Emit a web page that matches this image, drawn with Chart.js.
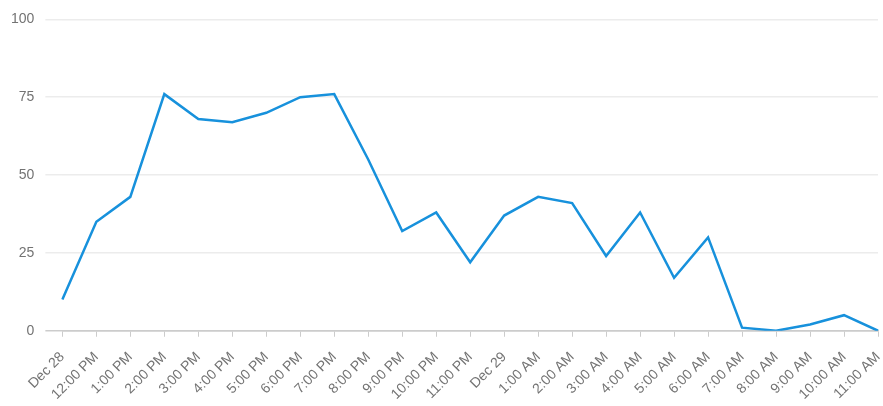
<!DOCTYPE html>
<html>
<head>
<meta charset="utf-8">
<script src="https://cdn.jsdelivr.net/npm/chart.js@4/dist/chart.umd.min.js"></script>
<style>
html,body{margin:0;padding:0;background:#fff;}
#wrap{width:883px;height:406px;position:relative;}
</style>
</head>
<body>
<div id="wrap"><canvas id="c"></canvas></div>
<script>
const categories = ["Dec 28","12:00 PM","1:00 PM","2:00 PM","3:00 PM","4:00 PM","5:00 PM","6:00 PM","7:00 PM","8:00 PM","9:00 PM","10:00 PM","11:00 PM","Dec 29","1:00 AM","2:00 AM","3:00 AM","4:00 AM","5:00 AM","6:00 AM","7:00 AM","8:00 AM","9:00 AM","10:00 AM","11:00 AM"];
const values = [10,35,43,76,68,67,70,75,76,55,32,38,22,37,43,41,24,38,17,30,1,0,2,5,0];
const yTicks = [0,25,50,75,100];

new Chart(document.getElementById('c'), {
  type: 'line',
  data: {
    labels: categories,
    datasets: [{
      data: values,
      borderColor: '#1791dc',
      borderWidth: 2.5,
      pointRadius: 0,
      pointHoverRadius: 0,
      tension: 0,
      fill: false
    }]
  },
  options: {
    responsive: true,
    maintainAspectRatio: false,
    animation: false,
    layout: { padding: { top: 13, right: 5, left: 0, bottom: -9 } },
    plugins: { legend: { display: false }, tooltip: { enabled: false } },
    scales: {
      x: {
        offset: false,
        afterFit: (s) => { s.paddingRight = 0; },
        grid: { drawOnChartArea: false, drawTicks: true, tickLength: 6, color: '#cccccc' },
        border: { display: true, color: '#cccccc', width: 1.5 },
        ticks: {
          autoSkip: false, maxRotation: 45, minRotation: 45,
          color: '#737373', font: { family: 'Liberation Sans, Arial', size: 14 }, padding: 12
        }
      },
      y: {
        min: 0, max: 100,
        afterBuildTicks: (axis) => { axis.ticks = yTicks.map(v => ({ value: v })); },
        grid: {
          color: (ctx) => ctx.tick && ctx.tick.value === 0 ? '#cccccc' : '#ececec',
          tickLength: 17, lineWidth: 1.5
        },
        border: { display: false },
        ticks: { color: '#737373', font: { family: 'Liberation Sans, Arial', size: 14 }, padding: 11 }
      }
    }
  }
});
</script>
</body>
</html>
